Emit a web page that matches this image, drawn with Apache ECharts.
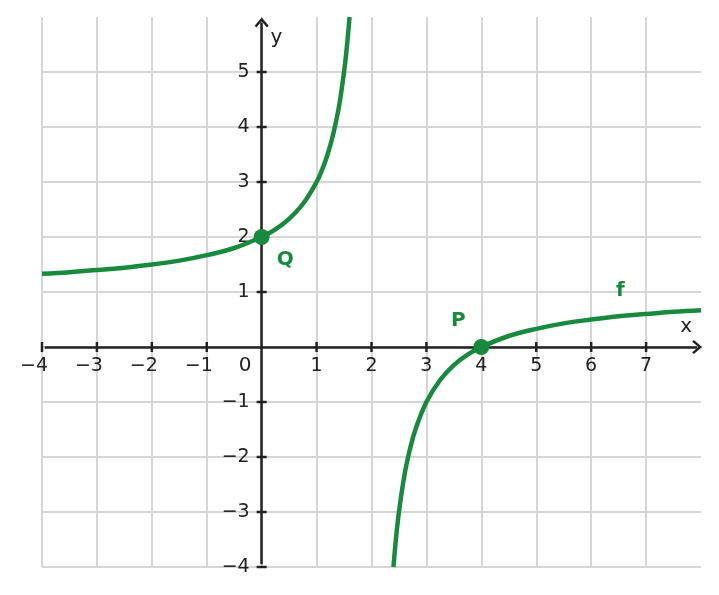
<!DOCTYPE html>
<html>
<head>
<meta charset="utf-8">
<script src="https://cdn.jsdelivr.net/npm/echarts@6/dist/echarts.min.js"></script>
<style>html,body{margin:0;padding:0;background:#fff}#c{width:719px;height:595px}</style>
</head>
<body>
<div id="c"></div>
<script>
// Values
const leftX = [-4, -3.5, -3, -2.5, -2, -1.5, -1, -0.5, 0, 0.25, 0.5, 0.75, 1, 1.1, 1.2, 1.3, 1.4, 1.45, 1.5, 1.55, 1.6];
const leftY = [1.33, 1.36, 1.4, 1.44, 1.5, 1.57, 1.67, 1.8, 2, 2.14, 2.33, 2.6, 3, 3.22, 3.5, 3.86, 4.33, 4.64, 5, 5.44, 6];
const rightX = [2.4, 2.45, 2.5, 2.6, 2.7, 2.8, 3, 3.25, 3.5, 3.75, 4, 4.5, 5, 5.5, 6, 6.5, 7, 7.5, 8];
const rightY = [-4, -3.44, -3, -2.33, -1.86, -1.5, -1, -0.6, -0.33, -0.14, 0, 0.2, 0.33, 0.43, 0.5, 0.56, 0.6, 0.64, 0.67];
const pointNames = ['Q', 'P'];
const pointX = [0, 4];
const pointY = [2, 0];
const xTicks = [-4, -3, -2, -1, 1, 2, 3, 4, 5, 6, 7];
const yTicks = [-4, -3, -2, -1, 1, 2, 3, 4, 5];
const curveName = 'f';
const xAxisEnds = [-3.95, 7.93];
const yAxisEnds = [-3.95, 5.9];

const GREEN = '#178a3e';
const AX = '#222222';
const FONT = 'DejaVu Sans';

const fmt = v => String(v).replace('-', '\u2212');
const arrow = 'path://M0,0 L7,8.5 L5.3,10.2 L0,3.8 L-5.3,10.2 L-7,8.5 Z';

const chart = echarts.init(document.getElementById('c'), null, {renderer: 'canvas'});
chart.setOption({
  animation: false,
  backgroundColor: '#ffffff',
  grid: {left: 42, right: 18, top: 17, bottom: 28},
  xAxis: {
    type: 'value', min: -4, max: 8, interval: 1,
    axisLine: {show: false}, axisTick: {show: false}, axisLabel: {show: false},
    splitLine: {show: true, showMaxLine: false, lineStyle: {color: '#d6d6d6', width: 2}}
  },
  yAxis: {
    type: 'value', min: -4, max: 6, interval: 1,
    axisLine: {show: false}, axisTick: {show: false}, axisLabel: {show: false},
    splitLine: {show: true, showMaxLine: false, lineStyle: {color: '#d6d6d6', width: 2}}
  },
  series: [
    {type: 'scatter', symbol: 'rect', symbolSize: [2.5, 10], silent: true, z: 1,
      itemStyle: {color: AX, opacity: 1},
      label: {show: true, position: 'inside', offset: [0, 19], formatter: p => fmt(p.value[0]),
        color: AX, fontFamily: FONT, fontSize: 19},
      data: xTicks.map(v => ({value: [v, 0], label: {offset: [v < 0 ? -8 : 0, 19]}})),
      markLine: {silent: true, symbol: ['none', arrow], symbolSize: [14, 10],
        label: {show: false}, lineStyle: {color: AX, width: 2.5, type: 'solid'},
        data: [[{coord: [xAxisEnds[0], 0]}, {coord: [xAxisEnds[1], 0]}]]}},
    {type: 'scatter', symbol: 'rect', symbolSize: [10, 2.5], silent: true, z: 1,
      itemStyle: {color: AX, opacity: 1},
      label: {show: true, position: 'left', distance: 7, formatter: p => fmt(p.value[1]),
        color: AX, fontFamily: FONT, fontSize: 19},
      data: yTicks.map(v => [0, v]),
      markLine: {silent: true, symbol: ['none', arrow], symbolSize: [14, 10],
        label: {show: false}, lineStyle: {color: AX, width: 2.5, type: 'solid'},
        data: [[{coord: [0, yAxisEnds[0]]}, {coord: [0, yAxisEnds[1]]}]]}},
    {type: 'line', name: curveName, smooth: 0.4, showSymbol: false, clip: true, z: 3,
      lineStyle: {color: GREEN, width: 4.5}, data: leftX.map((x, i) => [x, leftY[i]])},
    {type: 'line', name: curveName, smooth: 0.4, showSymbol: false, clip: true, z: 3,
      lineStyle: {color: GREEN, width: 4.5}, data: rightX.map((x, i) => [x, rightY[i]])},
    {type: 'scatter', symbol: 'circle', symbolSize: 16, z: 5,
      itemStyle: {color: GREEN, opacity: 1},
      data: pointX.map((x, i) => ({value: [x, pointY[i]], name: pointNames[i]}))},
    {type: 'scatter', symbolSize: 0, z: 6, silent: true, itemStyle: {opacity: 1},
      label: {show: true, position: 'inside', formatter: p => p.name,
        fontFamily: FONT, fontWeight: 'bold', fontSize: 20, color: GREEN},
      data: [
        {name: 'Q', value: [0.43, 1.58]},
        {name: 'P', value: [3.58, 0.48]},
        {name: curveName, value: [6.53, 1.03]}
      ]},
    {type: 'scatter', symbolSize: 0, z: 6, silent: true, itemStyle: {opacity: 1},
      label: {show: true, position: 'inside', formatter: p => p.name,
        fontFamily: FONT, fontSize: 20, color: AX},
      data: [
        {name: 'x', value: [7.73, 0.37]},
        {name: 'y', value: [0.27, 5.63]},
        {name: '0', value: [-0.3, -0.35]}
      ]}
  ]
});
</script>
</body>
</html>
